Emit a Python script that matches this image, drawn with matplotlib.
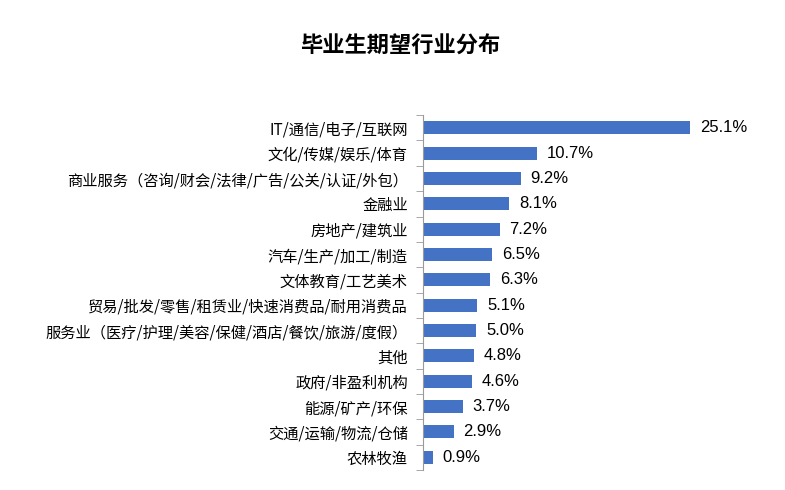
import matplotlib.pyplot as plt
import numpy as np

plt.rcParams['font.family'] = ['Noto Sans CJK SC', 'DejaVu Sans']

categories = [
    'IT/通信/电子/互联网',
    '文化/传媒/娱乐/体育',
    '商业服务（咨询/财会/法律/广告/公关/认证/外包）',
    '金融业',
    '房地产/建筑业',
    '汽车/生产/加工/制造',
    '文体教育/工艺美术',
    '贸易/批发/零售/租赁业/快速消费品/耐用消费品',
    '服务业（医疗/护理/美容/保健/酒店/餐饮/旅游/度假）',
    '其他',
    '政府/非盈利机构',
    '能源/矿产/环保',
    '交通/运输/物流/仓储',
    '农林牧渔',
]
values = [25.1, 10.7, 9.2, 8.1, 7.2, 6.5, 6.3, 5.1, 5.0, 4.8, 4.6, 3.7, 2.9, 0.9]

fig = plt.figure(figsize=(7.85, 4.9), dpi=100)
ax = fig.add_axes([0.539, 0.041, 0.441, 0.724])

y = np.arange(len(categories))
ax.barh(y, values, height=0.52, color='#4472C4')
ax.set_ylim(len(categories) - 0.5, -0.5)
ax.set_xlim(0, 32.5)

for yi, v in zip(y, values):
    ax.text(v + 0.9, yi, f'{v:.1f}%', va='center', ha='left', fontsize=12,
            family=['Liberation Sans', 'DejaVu Sans'])

ax.set_yticks(y)
ax.set_yticklabels(categories, fontsize=11)
ax.tick_params(axis='y', which='major', length=0, pad=11)
ax.set_yticks(np.arange(-0.5, len(categories)), minor=True)
ax.tick_params(axis='y', which='minor', length=5, color='#999999', direction='out')
ax.set_xticks([])

for s in ['top', 'right', 'bottom']:
    ax.spines[s].set_visible(False)
ax.spines['left'].set_color('#999999')

fig.suptitle('毕业生期望行业分布', x=0.51, y=0.93, fontsize=16, fontweight='bold')

fig.savefig('out.png', dpi=100)
